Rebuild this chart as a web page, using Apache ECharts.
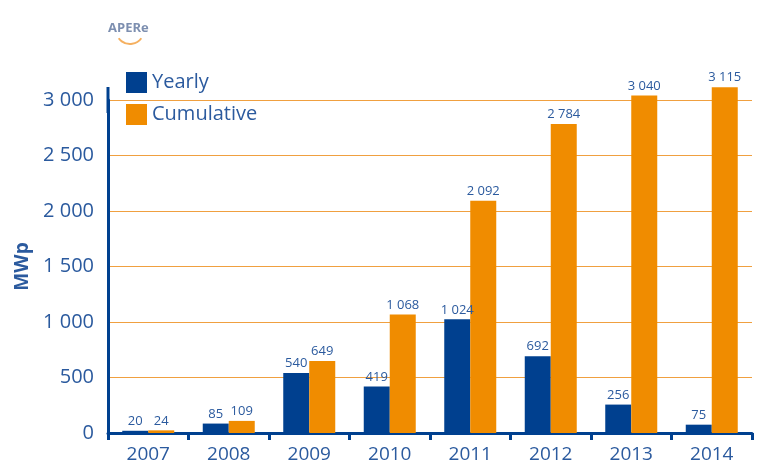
<!DOCTYPE html>
<html>
<head>
<meta charset="utf-8">
<script src="https://cdn.jsdelivr.net/npm/echarts@6/dist/echarts.min.js"></script>
<style>
  html, body { margin: 0; padding: 0; background: #fff; }
  #chart { width: 762px; height: 468px; }
</style>
</head>
<body>
<div id="chart"></div>
<script>
// data
var years = ['2007', '2008', '2009', '2010', '2011', '2012', '2013', '2014'];
var yearly = [20, 85, 540, 419, 1024, 692, 256, 75];
var cumulative = [24, 109, 649, 1068, 2092, 2784, 3040, 3115];

var blue = '#00408f';
var orange = '#f08c00';
var textBlue = '#2b5a9e';
var font = 'Open Sans';

function fmt(v) {
    return String(v).replace(/\B(?=(\d{3})+(?!\d))/g, ' ');
}

var chart = echarts.init(document.getElementById('chart'));
chart.setOption({
    animation: false,
    textStyle: { fontFamily: font },
    grid: { left: 108, right: 10, top: 100, bottom: 35, containLabel: false },
    legend: {
        orient: 'vertical',
        left: 121, top: 67,
        itemWidth: 21, itemHeight: 21,
        itemGap: 11,
        icon: 'rect',
        textStyle: { color: textBlue, fontSize: 20, fontFamily: font },
        data: ['Yearly', 'Cumulative']
    },
    graphic: [
        { type: 'text', left: 108, top: 22,
          style: { text: 'APERe', fill: '#7d8fb0', font: 'bold 13px ' + font } },
        { type: 'arc', shape: { cx: 130, cy: 30, r: 14, startAngle: Math.PI * 0.2, endAngle: Math.PI * 0.8 },
          style: { stroke: '#f5b060', lineWidth: 2, fill: null } }
    ],
    xAxis: {
        type: 'category',
        data: years,
        axisLine: { lineStyle: { color: blue, width: 3 } },
        axisTick: { show: true, length: 7, lineStyle: { color: blue, width: 3 } },
        axisLabel: { color: textBlue, fontSize: 19, margin: 12 },
        splitLine: { show: false }
    },
    yAxis: {
        type: 'value',
        name: 'MWp',
        nameLocation: 'middle',
        nameRotate: 90,
        nameGap: 76,
        nameTextStyle: { color: textBlue, fontSize: 19, fontWeight: 'bold' },
        min: 0, max: 3000, interval: 500,
        axisLine: {
            show: true,
            symbol: ['none', 'rect'], symbolSize: [3, 26],
            lineStyle: { color: blue, width: 3 }
        },
        axisTick: { show: false },
        axisLabel: {
            color: textBlue, fontSize: 20, margin: 14,
            formatter: function (v) { return fmt(v); }
        },
        splitLine: { lineStyle: { color: '#f0a040', width: 1 } }
    },
    series: [
        {
            name: 'Yearly', type: 'bar', data: yearly,
            itemStyle: { color: blue },
            barWidth: 26, barGap: '0%', clip: false,
            label: { show: true, position: 'top', distance: 3, color: textBlue, fontSize: 13,
                     formatter: function (p) { return fmt(p.value); } }
        },
        {
            name: 'Cumulative', type: 'bar', data: cumulative,
            itemStyle: { color: orange },
            barWidth: 26, clip: false,
            label: { show: true, position: 'top', distance: 3, color: textBlue, fontSize: 13,
                     formatter: function (p) { return fmt(p.value); } }
        }
    ]
});
</script>
</body>
</html>
